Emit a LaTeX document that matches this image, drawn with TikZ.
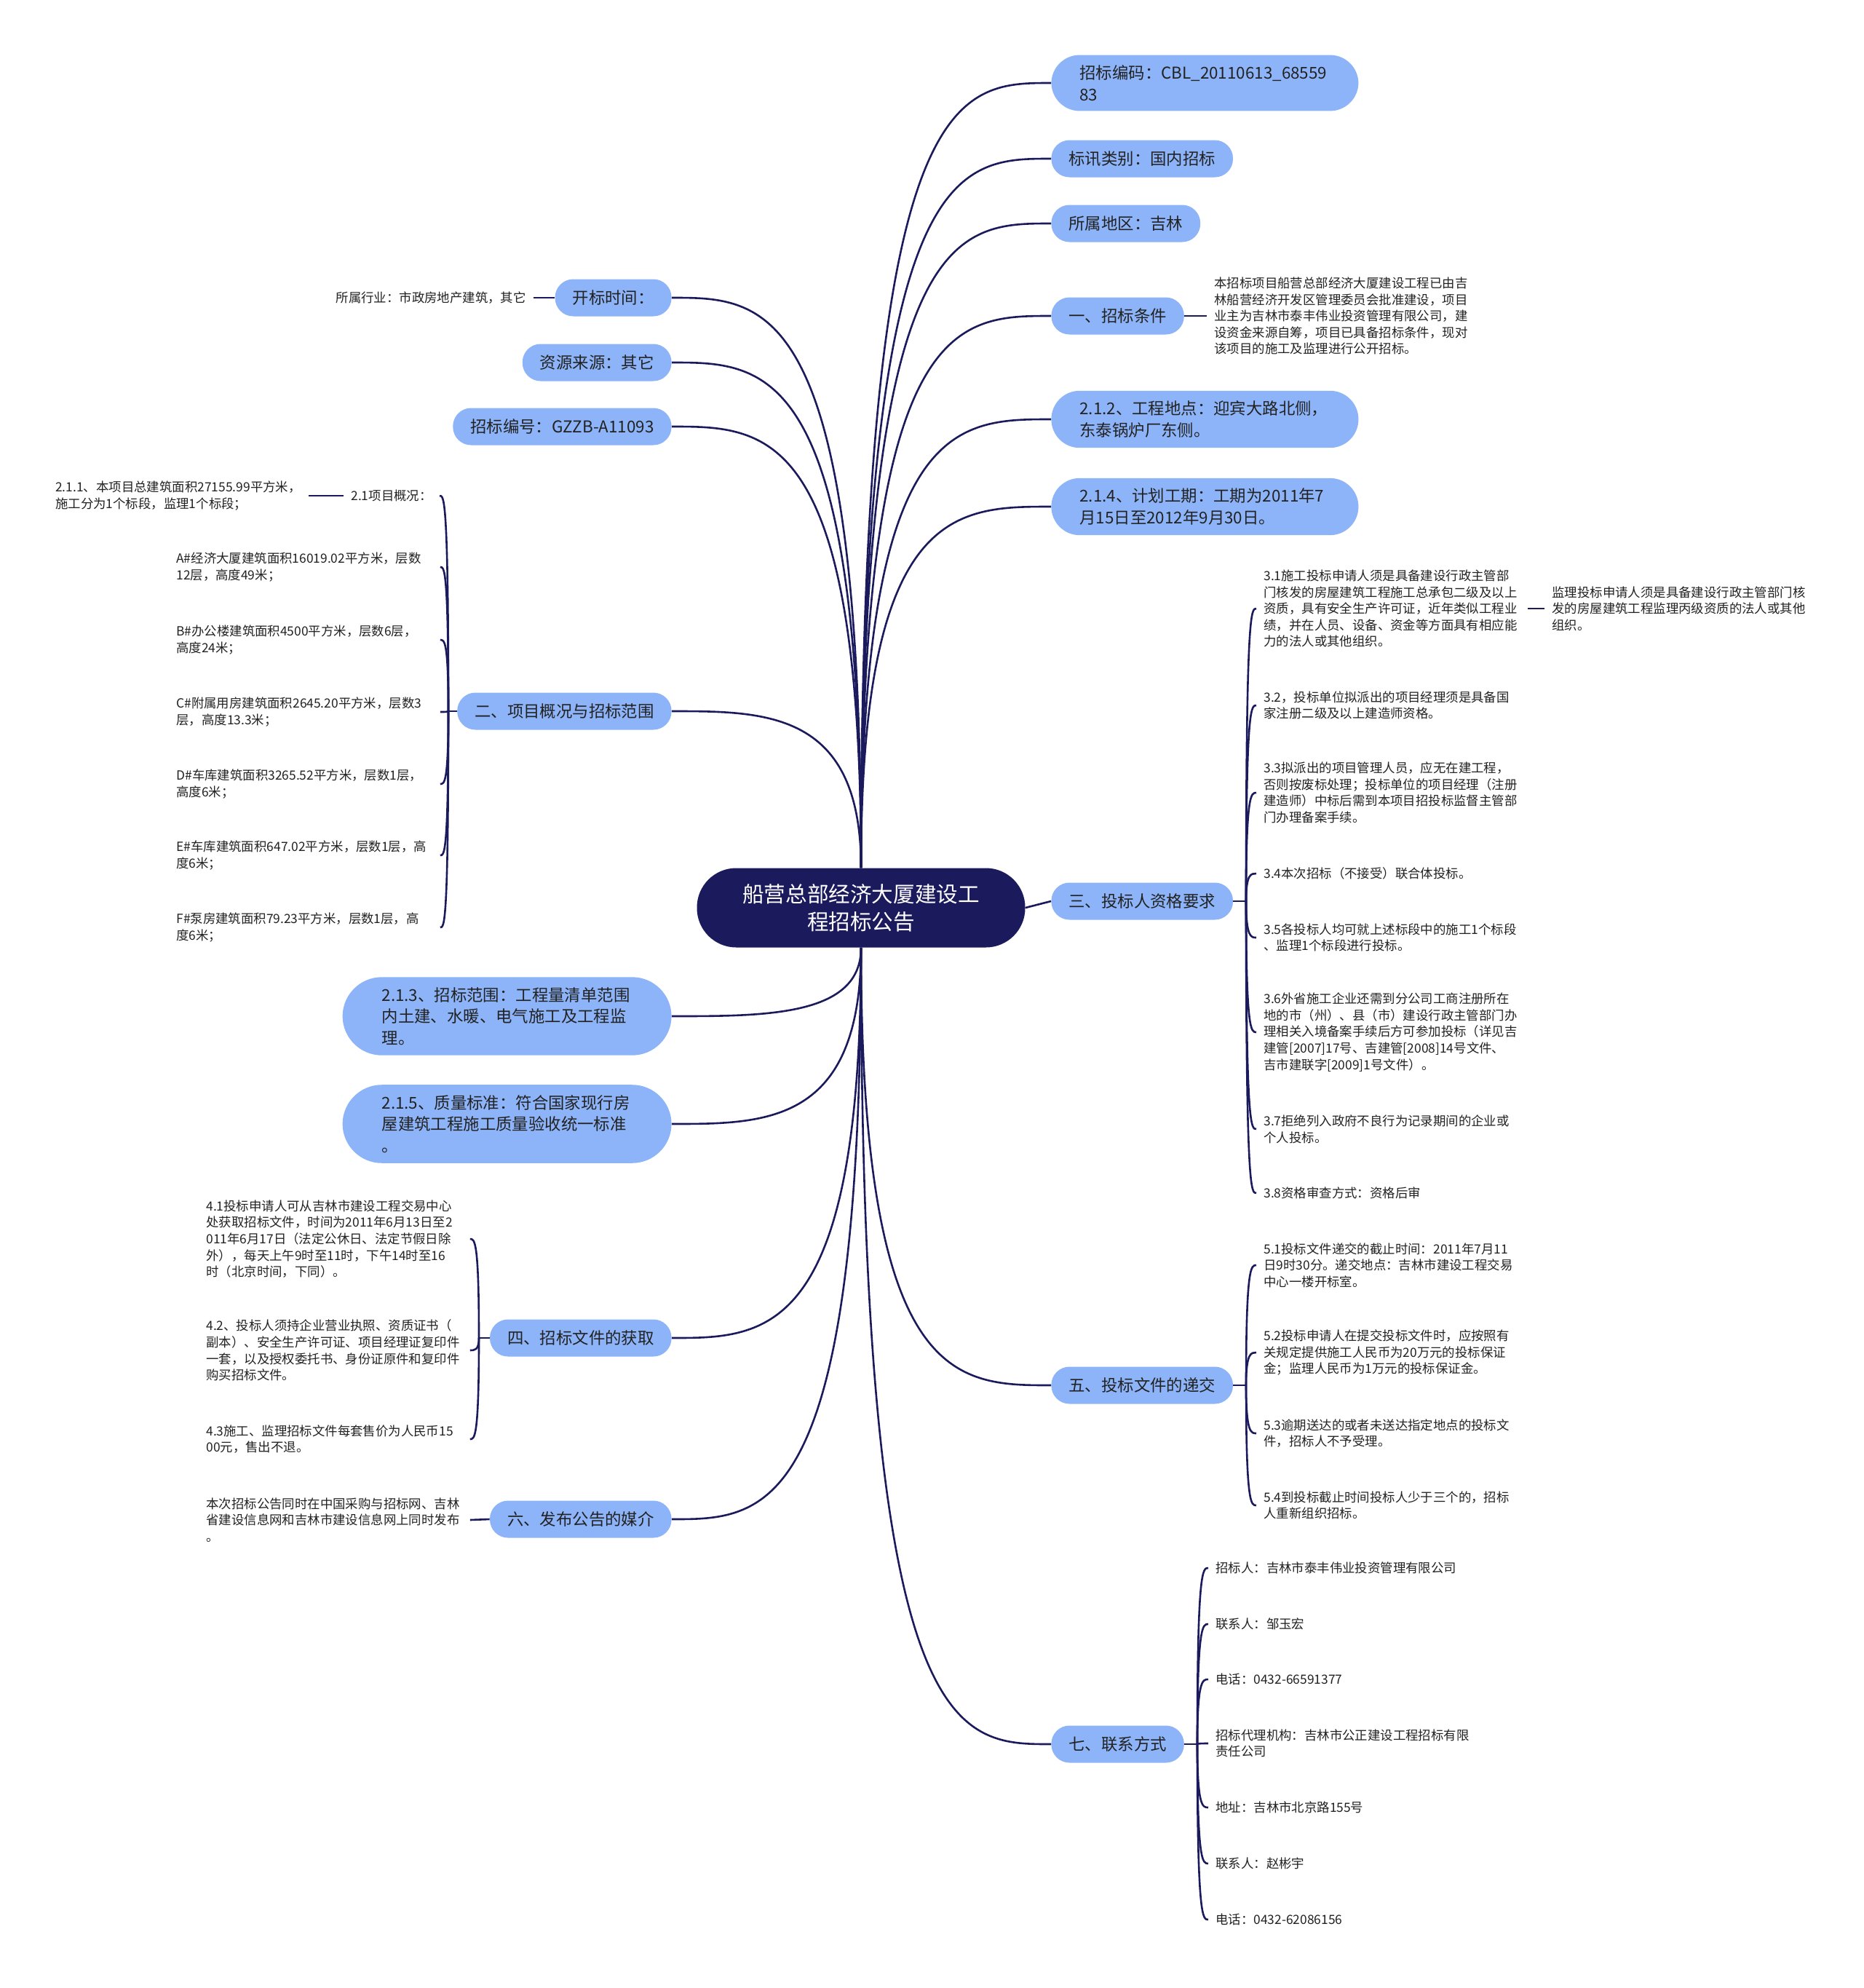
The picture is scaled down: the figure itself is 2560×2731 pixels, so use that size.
\documentclass[tikz,border=0pt]{standalone}
\usepackage{fontspec}
\setmainfont{Noto Sans CJK SC}
\usetikzlibrary{calc}
\definecolor{mmnavy}{RGB}{27,26,92}
\definecolor{mmblue}{RGB}{141,180,248}
\definecolor{mmtext}{RGB}{34,34,34}
\newcommand\rootfont{\fontsize{14.8}{19}\selectfont}
\newcommand\pillfont{\fontsize{11.2}{14.8}\selectfont}
\newcommand\leaffont{\fontsize{8.7}{11.3}\selectfont}

\begin{document}
\begin{tikzpicture}[x=0.5pt, y=-0.5pt,
  link/.style={draw=mmnavy, line width=1.3pt},
  branch/.style={to path={.. controls (\tikztostart |- \tikztotarget) and ($(\tikztostart |- \tikztotarget)!0.5!(\tikztotarget)$) .. (\tikztotarget)}},
  topic/.style={rectangle, rounded corners=27pt, fill=mmnavy, text=white, font=\rootfont, align=center, minimum width=225.5pt, minimum height=54.5pt},
  pill/.style={rectangle, rounded corners=12.5pt, fill=mmblue, text=mmtext, font=\pillfont, inner xsep=12pt, inner ysep=7pt, minimum height=25.5pt},
  pillw/.style={pill, rounded corners=#1, inner xsep=#1, text width=172pt, align=left},
  pillw/.default=19.5pt,
  leaf/.style={text=mmtext, font=\leaffont, align=left, inner xsep=5pt, inner ysep=2pt},
  leafw/.style={text width=176pt}]
  \fill[white] (0,0) rectangle (2560,2731);
  \useasboundingbox (0,0) rectangle (2560,2731);

  % centre
  \node[topic] (root) at (1183,1247) {船营总部经济大厦建设工\\程招标公告};

  % right branches
  \node[pillw, anchor=west] (r1) at (1444,114) {招标编码：CBL\_20110613\_68559\\83};
  \node[pill, anchor=west] (r2) at (1444,218) {标讯类别：国内招标};
  \node[pill, anchor=west] (r3) at (1444,307) {所属地区：吉林};
  \node[pill, anchor=west] (r4) at (1444,434) {一、招标条件};
  \node[pillw, anchor=west] (r5) at (1444,576) {2.1.2、工程地点：迎宾大路北侧，\\东泰锅炉厂东侧。};
  \node[pillw, anchor=west] (r6) at (1444,696) {2.1.4、计划工期：工期为2011年7\\月15日至2012年9月30日。};
  \node[pill, anchor=west] (r7) at (1444,1238) {三、投标人资格要求};
  \node[pill, anchor=west] (r8) at (1444,1903) {五、投标文件的递交};
  \node[pill, anchor=west] (r9) at (1444,2396) {七、联系方式};

  % left branches
  \node[pill, anchor=east] (l1) at (923,409) {开标时间：};
  \node[pill, anchor=east] (l2) at (923,498) {资源来源：其它};
  \node[pill, anchor=east] (l3) at (923,586) {招标编号：GZZB-A11093};
  \node[pill, anchor=east] (l4) at (923,977) {二、项目概况与招标范围};
  \node[pillw=27pt, anchor=east] (l5) at (923,1396) {2.1.3、招标范围：工程量清单范围\\内土建、水暖、电气施工及工程监\\理。};
  \node[pillw=27pt, anchor=east] (l6) at (923,1544) {2.1.5、质量标准：符合国家现行房\\屋建筑工程施工质量验收统一标准\\。};
  \node[pill, anchor=east] (l7) at (923,1838) {四、招标文件的获取};
  \node[pill, anchor=east] (l8) at (923,2087) {六、发布公告的媒介};

  \foreach \n in {r1,r2,r3,r4,r5,r6} \draw[link] (root.north) to[branch] (\n.west);
  \foreach \n in {l1,l2,l3,l4} \draw[link] (root.north) to[branch] (\n.east);
  \foreach \n in {r8,r9} \draw[link] (root.south) to[branch] (\n.west);
  \foreach \n in {l5,l6,l7,l8} \draw[link] (root.south) to[branch] (\n.east);
  \draw[link] (root.east) -- (r7.west);

  % 一、招标条件
  \node[leaf, anchor=west] (r4a) at (1658,434) {本招标项目船营总部经济大厦建设工程已由吉\\林船营经济开发区管理委员会批准建设，项目\\业主为吉林市泰丰伟业投资管理有限公司，建\\设资金来源自筹，项目已具备招标条件，现对\\该项目的施工及监理进行公开招标。};
  \draw[link] (r4.east) -- (r4a.west);

  % 三、投标人资格要求
  \node[leaf, leafw, anchor=west] (r7a) at (1726,836) {3.1施工投标申请人须是具备建设行政主管部\\门核发的房屋建筑工程施工总承包二级及以上\\资质，具有安全生产许可证，近年类似工程业\\绩，并在人员、设备、资金等方面具有相应能\\力的法人或其他组织。};
  \node[leaf, anchor=west] (r7a1) at (2122,836) {监理投标申请人须是具备建设行政主管部门核\\发的房屋建筑工程监理丙级资质的法人或其他\\组织。};
  \node[leaf, leafw, anchor=west] (r7b) at (1726,969) {3.2，投标单位拟派出的项目经理须是具备国\\家注册二级及以上建造师资格。};
  \node[leaf, leafw, anchor=west] (r7c) at (1726,1089) {3.3拟派出的项目管理人员，应无在建工程，\\否则按废标处理；投标单位的项目经理（注册\\建造师）中标后需到本项目招投标监督主管部\\门办理备案手续。};
  \node[leaf, leafw, anchor=west] (r7d) at (1726,1200) {3.4本次招标（不接受）联合体投标。};
  \node[leaf, leafw, anchor=west] (r7e) at (1726,1288) {3.5各投标人均可就上述标段中的施工1个标段\\、监理1个标段进行投标。};
  \node[leaf, leafw, anchor=west] (r7f) at (1726,1418) {3.6外省施工企业还需到分公司工商注册所在\\地的市（州）、县（市）建设行政主管部门办\\理相关入境备案手续后方可参加投标（详见吉\\建管[2007]17号、吉建管[2008]14号文件、\\吉市建联字[2009]1号文件）。};
  \node[leaf, leafw, anchor=west] (r7g) at (1726,1551) {3.7拒绝列入政府不良行为记录期间的企业或\\个人投标。};
  \node[leaf, leafw, anchor=west] (r7h) at (1726,1639) {3.8资格审查方式：资格后审};
  \coordinate (r7s) at (1712,1238);
  \draw[link] (r7.east) -- (r7s);
  \foreach \n in {r7a,r7b,r7c,r7d,r7e,r7f,r7g,r7h} \draw[link] (r7s) to[branch] (\n.west);
  \draw[link] (r7a.east) -- (r7a1.west);

  % 五、投标文件的递交
  \node[leaf, leafw, anchor=west] (r8a) at (1726,1738) {5.1投标文件递交的截止时间：2011年7月11\\日9时30分。递交地点：吉林市建设工程交易\\中心一楼开标室。};
  \node[leaf, leafw, anchor=west] (r8b) at (1726,1858) {5.2投标申请人在提交投标文件时，应按照有\\关规定提供施工人民币为20万元的投标保证\\金；监理人民币为1万元的投标保证金。};
  \node[leaf, leafw, anchor=west] (r8c) at (1726,1969) {5.3逾期送达的或者未送达指定地点的投标文\\件，招标人不予受理。};
  \node[leaf, leafw, anchor=west] (r8d) at (1726,2068) {5.4到投标截止时间投标人少于三个的，招标\\人重新组织招标。};
  \coordinate (r8s) at (1712,1903);
  \draw[link] (r8.east) -- (r8s);
  \foreach \n in {r8a,r8b,r8c,r8d} \draw[link] (r8s) to[branch] (\n.west);

  % 七、联系方式
  \node[leaf, leafw, anchor=west] (r9a) at (1660,2154) {招标人：吉林市泰丰伟业投资管理有限公司};
  \node[leaf, leafw, anchor=west] (r9b) at (1660,2231) {联系人：邹玉宏};
  \node[leaf, leafw, anchor=west] (r9c) at (1660,2307) {电话：0432-66591377};
  \node[leaf, leafw, anchor=west] (r9d) at (1660,2395) {招标代理机构：吉林市公正建设工程招标有限\\责任公司};
  \node[leaf, leafw, anchor=west] (r9e) at (1660,2483) {地址：吉林市北京路155号};
  \node[leaf, leafw, anchor=west] (r9f) at (1660,2560) {联系人：赵彬宇};
  \node[leaf, leafw, anchor=west] (r9g) at (1660,2637) {电话：0432-62086156};
  \coordinate (r9s) at (1645,2396);
  \draw[link] (r9.east) -- (r9s);
  \foreach \n in {r9a,r9b,r9c,r9d,r9e,r9f,r9g} \draw[link] (r9s) to[branch] (\n.west);

  % 开标时间
  \node[leaf, anchor=east] (l1a) at (733,409) {所属行业：市政房地产建筑，其它};
  \draw[link] (l1.west) -- (l1a.east);

  % 二、项目概况与招标范围
  \node[leaf, anchor=east] (l4a) at (604,681) {2.1项目概况：};
  \node[leaf, anchor=east] (l4a1) at (424,681) {2.1.1、本项目总建筑面积27155.99平方米，\\施工分为1个标段，监理1个标段；};
  \node[leaf, leafw, anchor=west] (l4b) at (232,779) {A\#经济大厦建筑面积16019.02平方米，层数\\12层，高度49米；};
  \node[leaf, leafw, anchor=west] (l4c) at (232,879) {B\#办公楼建筑面积4500平方米，层数6层，\\高度24米；};
  \node[leaf, leafw, anchor=west] (l4d) at (232,978) {C\#附属用房建筑面积2645.20平方米，层数3\\层，高度13.3米；};
  \node[leaf, leafw, anchor=west] (l4e) at (232,1077) {D\#车库建筑面积3265.52平方米，层数1层，\\高度6米；};
  \node[leaf, leafw, anchor=west] (l4f) at (232,1175) {E\#车库建筑面积647.02平方米，层数1层，高\\度6米；};
  \node[leaf, leafw, anchor=west] (l4g) at (232,1274) {F\#泵房建筑面积79.23平方米，层数1层，高\\度6米；};
  \coordinate (l4s) at (616,977);
  \draw[link] (l4.west) -- (l4s);
  \foreach \n in {l4a,l4b,l4c,l4d,l4e,l4f,l4g} \draw[link] (l4s) to[branch] (\n.east);
  \draw[link] (l4a.west) -- (l4a1.east);

  % 四、招标文件的获取
  \node[leaf, leafw, anchor=west] (l7a) at (273,1702) {4.1投标申请人可从吉林市建设工程交易中心\\处获取招标文件，时间为2011年6月13日至2\\011年6月17日（法定公休日、法定节假日除\\外），每天上午9时至11时，下午14时至16\\时（北京时间，下同）。};
  \node[leaf, leafw, anchor=west] (l7b) at (273,1855) {4.2、投标人须持企业营业执照、资质证书（\\副本）、安全生产许可证、项目经理证复印件\\一套，以及授权委托书、身份证原件和复印件\\购买招标文件。};
  \node[leaf, leafw, anchor=west] (l7c) at (273,1977) {4.3施工、监理招标文件每套售价为人民币15\\00元，售出不退。};
  \coordinate (l7s) at (658,1838);
  \draw[link] (l7.west) -- (l7s);
  \foreach \n in {l7a,l7b,l7c} \draw[link] (l7s) to[branch] (\n.east);

  % 六、发布公告的媒介
  \node[leaf, leafw, anchor=west] (l8a) at (273,2088) {本次招标公告同时在中国采购与招标网、吉林\\省建设信息网和吉林市建设信息网上同时发布\\。};
  \draw[link] (l8.west) -- (l8a.east);
\end{tikzpicture}
\end{document}
